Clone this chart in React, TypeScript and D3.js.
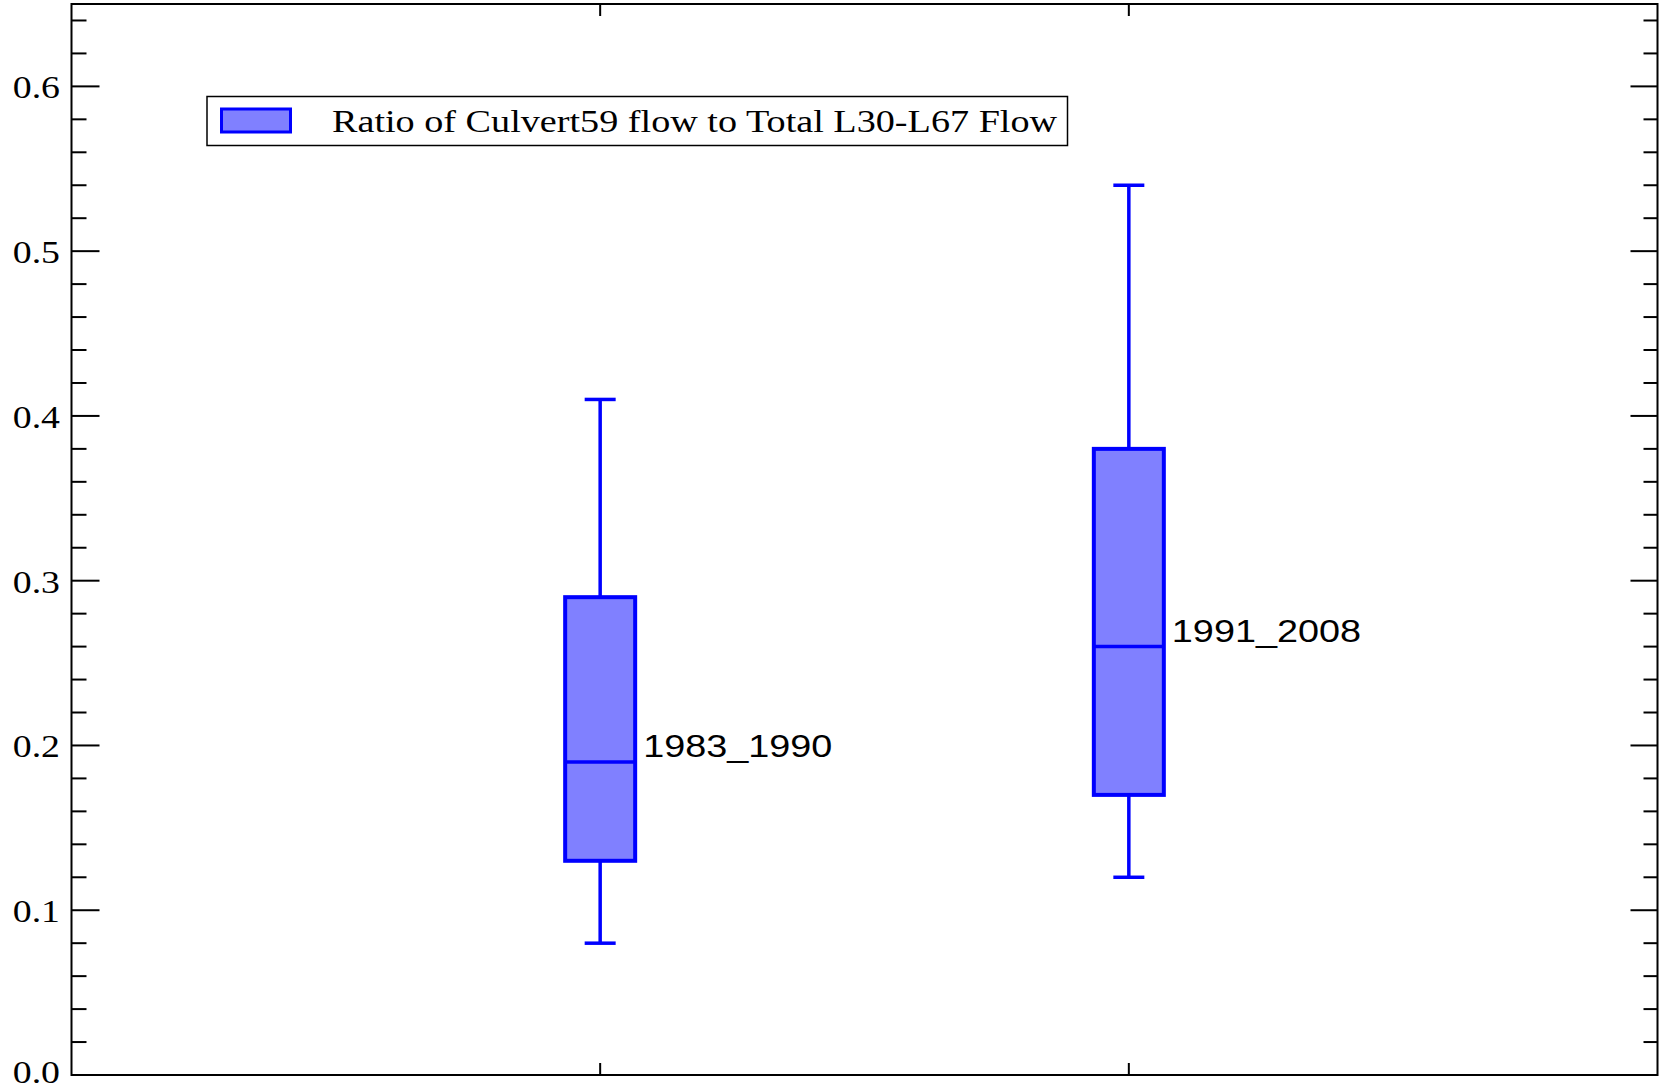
import React from "react";
import * as d3 from "d3";

const categories = ["1983_1990", "1991_2008"];
const positions = [1, 2];
const whiskerLow = [0.08, 0.12];
const q1 = [0.13, 0.17];
const median = [0.19, 0.26];
const q3 = [0.29, 0.38];
const whiskerHigh = [0.41, 0.54];
const majorTicks = [0.0, 0.1, 0.2, 0.3, 0.4, 0.5, 0.6];
const minorTicks = d3.range(0, 33).map((i) => +(i * 0.02).toFixed(2));
const legendLabel = "Ratio of Culvert59 flow to Total L30-L67 Flow";

const W = 1664;
const H = 1091;
const L = 71.5, R = 1657.5, T = 4, B = 1075;
const SX = 1.22;
const BLUE = "#0000ff";
const FILL = "#8080ff";

export default function App() {
  const x = d3.scaleLinear().domain([0, 3]).range([L, R]);
  const y = d3.scaleLinear().domain([0, 0.65]).range([B, T]);
  const boxW = 70;
  const capW = 31;

  return (
    <svg
      width={W}
      height={H}
      style={{ position: "absolute", left: 0, top: 0, background: "#fff" }}
    >
      <rect x={0} y={0} width={W} height={H} fill="#fff" />
      {minorTicks.map((v) => {
        const isMajor = majorTicks.some((m) => Math.abs(m - v) < 1e-6);
        if (v === 0) return null;
        const yy = y(v);
        return (
          <g key={"t" + v}>
            <line x1={L} x2={L + (isMajor ? 28 : 15)} y1={yy} y2={yy} stroke="#000" strokeWidth={2} />
            <line x1={R} x2={R - (isMajor ? 27 : 14)} y1={yy} y2={yy} stroke="#000" strokeWidth={2} />
          </g>
        );
      })}
      {majorTicks.map((v) => (
        <text
          key={"l" + v}
          transform={`translate(60,${Math.min(y(v) + 12, 1083)}) scale(${SX},1)`}
          textAnchor="end"
          fontFamily="'Liberation Serif', 'Times New Roman', serif"
          fontSize={31}
          fill="#000"
        >
          {v.toFixed(1)}
        </text>
      ))}
      {positions.map((p) => (
        <g key={"x" + p}>
          <line x1={x(p)} x2={x(p)} y1={B} y2={B - 12} stroke="#000" strokeWidth={2} />
          <line x1={x(p)} x2={x(p)} y1={T} y2={T + 12} stroke="#000" strokeWidth={2} />
        </g>
      ))}
      {positions.map((p, i) => {
        const cx = x(p);
        return (
          <g key={"b" + i}>
            <line x1={cx} x2={cx} y1={y(whiskerHigh[i])} y2={y(q3[i])} stroke={BLUE} strokeWidth={3.5} />
            <line x1={cx} x2={cx} y1={y(q1[i])} y2={y(whiskerLow[i])} stroke={BLUE} strokeWidth={3.5} />
            <line x1={cx - capW / 2} x2={cx + capW / 2} y1={y(whiskerHigh[i])} y2={y(whiskerHigh[i])} stroke={BLUE} strokeWidth={3.5} />
            <line x1={cx - capW / 2} x2={cx + capW / 2} y1={y(whiskerLow[i])} y2={y(whiskerLow[i])} stroke={BLUE} strokeWidth={3.5} />
            <rect
              x={cx - boxW / 2}
              y={y(q3[i])}
              width={boxW}
              height={y(q1[i]) - y(q3[i])}
              fill={FILL}
              stroke={BLUE}
              strokeWidth={4}
            />
            <line x1={cx - boxW / 2} x2={cx + boxW / 2} y1={y(median[i])} y2={y(median[i])} stroke={BLUE} strokeWidth={3.5} />
            <text
              transform={`translate(${cx + boxW / 2 + 8},${y(median[i]) - 4.5}) scale(${SX},1)`}
              fontFamily="'Liberation Sans', Arial, sans-serif"
              fontSize={31}
              fill="#000"
            >
              {categories[i]}
            </text>
          </g>
        );
      })}
      <rect x={L} y={T} width={R - L} height={B - T} fill="none" stroke="#000" strokeWidth={2} />
      <rect x={207} y={96.5} width={860.5} height={49} fill="#fff" stroke="#000" strokeWidth={1.5} />
      <rect x={221.5} y={109} width={69} height={23} fill={FILL} stroke={BLUE} strokeWidth={3} />
      <text
        transform={`translate(332,132) scale(${SX},1)`}
        fontFamily="'Liberation Serif', 'Times New Roman', serif"
        fontSize={31.3}
        fill="#000"
      >
        {legendLabel}
      </text>
    </svg>
  );
}
